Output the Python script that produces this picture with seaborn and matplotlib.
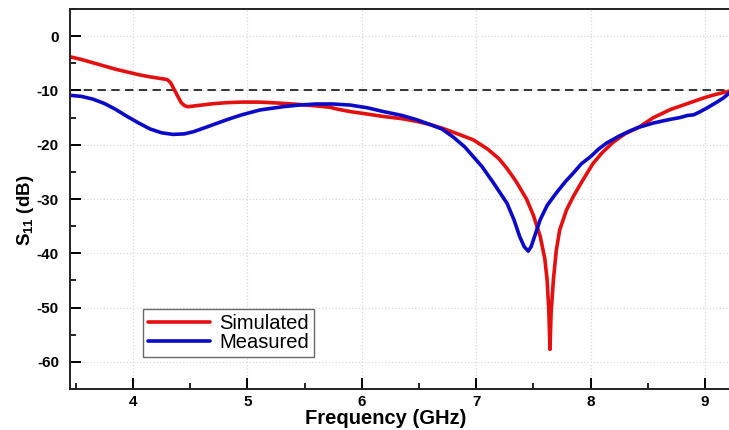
import numpy as np
import pandas as pd
import matplotlib
matplotlib.use("Agg")
import matplotlib.pyplot as plt
from matplotlib.ticker import MultipleLocator
import seaborn as sns

# ---- data ----
sim_freq = [3.45, 3.55, 3.65, 3.75, 3.85, 3.95, 4.05, 4.15, 4.24, 4.30, 4.33, 4.36,
            4.39, 4.42, 4.45, 4.48, 4.52, 4.60, 4.70, 4.82, 4.95, 5.10, 5.25, 5.46,
            5.60, 5.72, 5.80, 5.90, 6.00, 6.19, 6.35, 6.48, 6.60, 6.71, 6.85, 6.975,
            7.10, 7.20, 7.27, 7.35, 7.44, 7.50, 7.56, 7.60, 7.62, 7.635, 7.645, 7.655,
            7.675, 7.70, 7.73, 7.79, 7.85, 7.93, 8.02, 8.10, 8.20, 8.30, 8.42, 8.55,
            8.70, 8.85, 9.00, 9.10, 9.24]
sim_s11 = [-3.8, -4.3, -4.9, -5.5, -6.1, -6.6, -7.1, -7.5, -7.8, -8.0, -8.6, -9.8,
           -11.0, -12.2, -12.8, -13.0, -12.9, -12.7, -12.45, -12.25, -12.15, -12.15, -12.3, -12.6,
           -12.85, -13.1, -13.5, -13.9, -14.2, -14.8, -15.2, -15.7, -16.3, -17.0, -18.1, -19.1,
           -20.8, -22.6, -24.4, -26.8, -30.0, -33.0, -36.9, -41.0, -44.9, -50.5, -57.7, -51.0,
           -44.9, -39.5, -35.7, -32.0, -29.5, -26.6, -23.5, -21.5, -19.5, -18.0, -16.8, -15.0,
           -13.5, -12.4, -11.3, -10.7, -10.0]

meas_freq = [3.45, 3.55, 3.65, 3.75, 3.85, 3.95, 4.05, 4.15, 4.25, 4.35, 4.45, 4.53,
             4.65, 4.82, 4.95, 5.11, 5.31, 5.45, 5.60, 5.75, 5.90, 6.05, 6.19, 6.35,
             6.48, 6.60, 6.70, 6.80, 6.90, 6.975, 7.05, 7.15, 7.27, 7.33, 7.38, 7.42,
             7.455, 7.48, 7.52, 7.56, 7.62, 7.70, 7.78, 7.85, 7.92, 8.00, 8.07, 8.14,
             8.25, 8.35, 8.42, 8.55, 8.68, 8.78, 8.85, 8.90, 8.95, 9.02, 9.10, 9.16, 9.24]
meas_s11 = [-10.9, -11.1, -11.6, -12.4, -13.5, -14.8, -16.0, -17.1, -17.8, -18.1, -18.0, -17.6,
            -16.7, -15.4, -14.5, -13.6, -13.0, -12.7, -12.5, -12.5, -12.7, -13.2, -13.9, -14.6,
            -15.4, -16.3, -17.1, -18.6, -20.4, -22.2, -24.0, -27.0, -30.8, -33.8, -36.9, -38.8,
            -39.6, -38.8, -36.3, -33.8, -31.2, -28.9, -26.8, -25.2, -23.5, -22.2, -20.8, -19.7,
            -18.4, -17.4, -16.8, -16.0, -15.4, -15.0, -14.6, -14.5, -14.0, -13.2, -12.2, -11.4, -10.0]

series_names = ["Simulated", "Measured"]
series_colors = ["#e3100f", "#0a0ac8"]
x_ticks = [4, 5, 6, 7, 8, 9]
y_ticks = [0, -10, -20, -30, -40, -50, -60]
threshold = -10

df = pd.concat([
    pd.DataFrame({"Frequency": sim_freq, "S11": sim_s11, "Series": series_names[0]}),
    pd.DataFrame({"Frequency": meas_freq, "S11": meas_s11, "Series": series_names[1]}),
], ignore_index=True)

sns.set_theme(style="white")
plt.rcParams["font.family"] = ["Liberation Sans", "DejaVu Sans"]
plt.rcParams["mathtext.fontset"] = "custom"
plt.rcParams["mathtext.rm"] = "Liberation Sans"
plt.rcParams["mathtext.bf"] = "Liberation Sans:bold"
plt.rcParams["axes.unicode_minus"] = False
plt.rcParams["text.color"] = "black"
plt.rcParams["axes.labelcolor"] = "black"
plt.rcParams["xtick.color"] = "black"
plt.rcParams["ytick.color"] = "black"

W, H = 729, 430
fig = plt.figure(figsize=(W / 100, H / 100), dpi=100)
ax_left, ax_right, ax_bottom, ax_top = 70, 733, 389, 9
ax = fig.add_axes([ax_left / W, 1 - ax_bottom / H, (ax_right - ax_left) / W, (ax_bottom - ax_top) / H])

sns.lineplot(data=df, x="Frequency", y="S11", hue="Series", hue_order=series_names,
             palette=series_colors, estimator=None, sort=False, linewidth=2.6, ax=ax,
             legend=True)
ax.axhline(threshold, color="black", linestyle=(0, (5.5, 3.5)), linewidth=1.1, zorder=1)

ax.set_xlim(3.45, 9.0 + (ax_right - 705) / 114.4)
ax.set_ylim(-65, 5)
ax.set_xticks(x_ticks)
ax.set_yticks(y_ticks)
ax.xaxis.set_minor_locator(MultipleLocator(0.5))
ax.yaxis.set_minor_locator(MultipleLocator(5))
ax.tick_params(which="major", direction="in", length=8, width=1.4, color="black",
               labelsize=11, labelcolor="black", top=False, right=False, bottom=True, left=True)
ax.tick_params(axis="y", which="major", pad=8)
ax.tick_params(axis="x", which="major", pad=4)
ax.tick_params(which="minor", direction="in", length=4.5, width=1.2, color="black",
               top=False, right=False, bottom=True, left=True)
for lbl in ax.get_xticklabels() + ax.get_yticklabels():
    lbl.set_fontweight("bold")

ax.grid(True, which="major", color="#d9d9d9", linestyle=":", linewidth=0.9)
ax.set_axisbelow(True)

for side in ["left", "bottom", "top"]:
    ax.spines[side].set_color("#222222")
    ax.spines[side].set_linewidth(1.4)
ax.spines["right"].set_visible(False)

ax.set_xlabel("Frequency (GHz)", fontsize=14.5, fontweight="bold", color="black")
ax.xaxis.set_label_coords((386 - ax_left) / (ax_right - ax_left), (ax_bottom - 409) / (ax_bottom - ax_top))
ax.set_ylabel(r"$\mathbf{S_{11}}$ (dB)", fontsize=13.5, fontweight="bold", color="black")
ax.yaxis.set_label_coords((36 - ax_left) / (ax_right - ax_left), (ax_bottom - 210) / (ax_bottom - ax_top))

handles, labels = ax.get_legend_handles_labels()
leg = ax.legend(handles, labels, loc="lower left",
                bbox_to_anchor=((143 - ax_left) / (ax_right - ax_left), (ax_bottom - 357) / (ax_bottom - ax_top)),
                borderaxespad=0, fontsize=14.5, handlelength=3.1, handletextpad=0.45,
                labelspacing=0.0, borderpad=0.25, frameon=True, fancybox=False)
leg.get_frame().set_edgecolor("#444444")
leg.get_frame().set_linewidth(1.0)
for txt in leg.get_texts():
    txt.set_color("black")
for line in leg.get_lines():
    line.set_linewidth(2.6)

fig.savefig("out.png", dpi=100)
